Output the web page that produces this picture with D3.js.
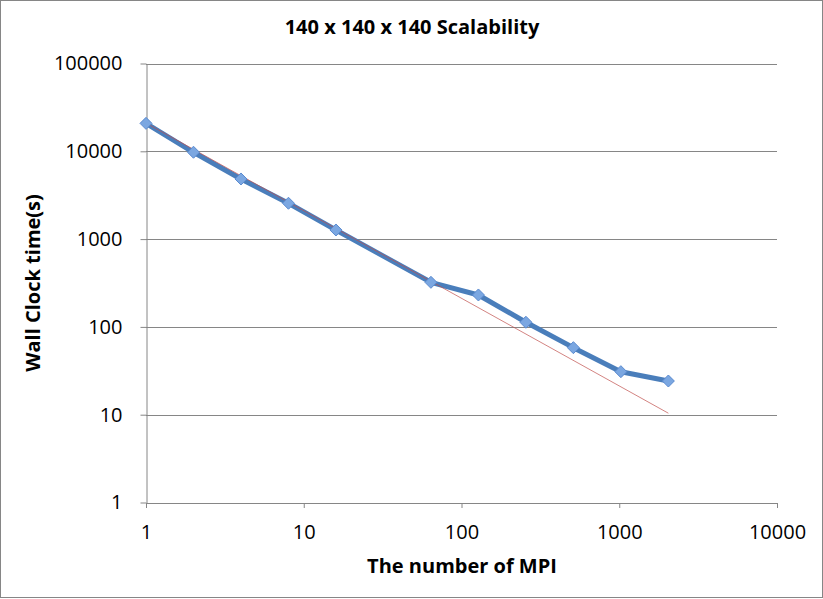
<!DOCTYPE html>
<html><head><meta charset="utf-8">
<script src="https://cdn.jsdelivr.net/npm/d3@7"></script>
<style>body{margin:0;background:#fff}svg{display:block}</style>
</head><body>
<svg id="c" width="823" height="599"></svg>
<script>
const mpi = [1, 2, 4, 8, 16, 64, 128, 256, 512, 1024, 2048];
const wallClock = [20800, 9750, 4840, 2560, 1270, 322, 231, 113, 58, 30.9, 24.2];
const idealX = [1, 2048];
const idealTime = [21000, 10.4];
const xTicks = [1, 10, 100, 1000, 10000];
const yTicks = [1, 10, 100, 1000, 10000, 100000];

const svg = d3.select("#c");
const font = "'Open Sans', 'DejaVu Sans', sans-serif";
svg.append("rect").attr("x",0.5).attr("y",0.5).attr("width",822).attr("height",597)
  .attr("fill","#fff").attr("stroke","#868686");

const x = d3.scaleLog().domain([1,10000]).range([146,777]);
const y = d3.scaleLog().domain([1,100000]).range([502.5,63.5]);

// gridlines
svg.append("g").selectAll("line").data(yTicks.slice(1)).join("line")
  .attr("x1",146).attr("x2",777).attr("y1",d=>Math.round(y(d))+0.5).attr("y2",d=>Math.round(y(d))+0.5)
  .attr("stroke","#868686").attr("stroke-width",1);

// y axis
const ya = svg.append("g").attr("transform","translate(146.5,0)")
  .call(d3.axisLeft(y).tickValues(yTicks).tickFormat(d3.format("d")).tickSize(6).tickSizeOuter(0).tickPadding(18));
ya.select(".domain").attr("stroke","#868686");
ya.selectAll(".tick line").attr("stroke","#868686");
ya.selectAll("text").attr("font-family",font).attr("font-size",20).attr("fill","#000");

// x axis
const xa = svg.append("g").attr("transform","translate(0,503)")
  .call(d3.axisBottom(x).tickValues(xTicks).tickFormat(d3.format("d")).tickSize(5).tickSizeOuter(0).tickPadding(17));
xa.select(".domain").attr("stroke","#868686");
xa.selectAll(".tick line").attr("stroke","#868686");
xa.selectAll("text").attr("font-family",font).attr("font-size",20).attr("fill","#000");

// series
const line = d3.line().x(d=>x(d[0])).y(d=>y(d[1]));
const pts = mpi.map((m,i)=>[m, wallClock[i]]);
svg.append("path").attr("d",line(pts)).attr("fill","none").attr("stroke","#4a7ebb")
  .attr("stroke-width",5).attr("stroke-linejoin","round");
svg.append("path").attr("d",line(idealX.map((m,i)=>[m, idealTime[i]]))).attr("fill","none")
  .attr("stroke","#c0504d").attr("stroke-width",1).attr("opacity",0.7);
svg.append("g").selectAll("path").data(pts).join("path")
  .attr("transform",d=>`translate(${x(d[0])},${y(d[1])})`)
  .attr("d","M0,-6L6,0L0,6L-6,0Z").attr("fill","#7ba7e1").attr("stroke","#5b8bd0").attr("stroke-width",1);

// titles
svg.append("text").attr("x",412).attr("y",34).attr("text-anchor","middle")
  .attr("font-family",font).attr("font-weight","bold").attr("font-size",20).text("140 x 140 x 140 Scalability");
svg.append("text").attr("x",462).attr("y",573).attr("text-anchor","middle")
  .attr("font-family",font).attr("font-weight","bold").attr("font-size",20).text("The number of MPI");
svg.append("text").attr("transform","translate(40,283) rotate(-90)").attr("text-anchor","middle")
  .attr("font-family",font).attr("font-weight","bold").attr("font-size",20).text("Wall Clock time(s)");
</script>
</body></html>
